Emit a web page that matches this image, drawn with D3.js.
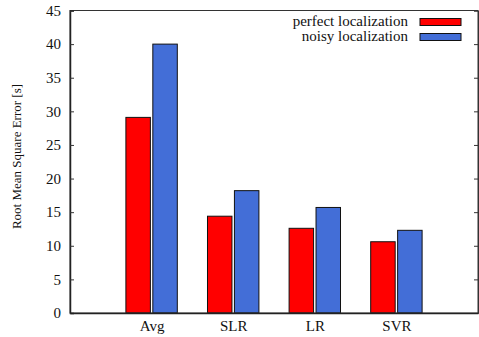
<!DOCTYPE html>
<html>
<head>
<meta charset="utf-8">
<script src="https://cdn.jsdelivr.net/npm/d3@7"></script>
<style>
  html, body { margin: 0; padding: 0; background: #fff; }
  svg { display: block; }
</style>
</head>
<body>
<svg id="chart" width="479" height="337"></svg>
<script>
// Data
const categories = ["Avg", "SLR", "LR", "SVR"];
const seriesNames = ["perfect localization", "noisy localization"];
const perfectValues = [29.1, 14.4, 12.6, 10.6];
const noisyValues = [40.0, 18.2, 15.7, 12.3];
const yTicks = [0, 5, 10, 15, 20, 25, 30, 35, 40, 45];
const colors = ["#ff0000", "#436ed7"];

const series = [perfectValues, noisyValues];

const svg = d3.select("#chart");
const margin = { left: 70, right: 1, top: 10.5, bottom: 24 };
const W = 479, H = 337;
const x0 = margin.left, x1 = W - margin.right;
const y0 = H - margin.bottom, y1 = margin.top;
const fontSize = 15;
const titleSize = 13;
const serifFont = "'Liberation Serif'";

// Category axis runs one slot either side of the groups
const x = d3.scaleLinear().domain([-1, categories.length]).range([x0, x1]);
const y = d3.scaleLinear().domain([0, 45]).range([y0, y1]);

const barW = 0.3;       // bar width in category units
const offsets = [-0.165, 0.165];

// Bars
series.forEach((vals, s) => {
  svg.append("g").selectAll("rect")
    .data(vals)
    .join("rect")
    .attr("x", (d, i) => x(i + offsets[s] - barW / 2))
    .attr("width", x(barW) - x(0))
    .attr("y", d => y(d))
    .attr("height", d => y(0) - y(d))
    .attr("fill", colors[s])
    .attr("stroke", "#111")
    .attr("stroke-width", 1);
});

// Frame
svg.append("rect")
  .attr("x", x0).attr("y", y1)
  .attr("width", x1 - x0).attr("height", y0 - y1)
  .attr("fill", "none").attr("stroke", "#333").attr("stroke-width", 1);

// Left axis with inward ticks
const yAxisL = d3.axisLeft(y).tickValues(yTicks).tickSize(-4).tickPadding(9);
const gl = svg.append("g").attr("transform", `translate(${x0},0)`).call(yAxisL);
gl.select(".domain").attr("stroke", "#222").attr("stroke-width", 1.5);
gl.selectAll("line").attr("stroke", "#333");
gl.selectAll("text").style("font-family", serifFont).style("font-size", fontSize + "px").attr("fill", "#111");

// Right mirror ticks
const yAxisR = d3.axisRight(y).tickValues(yTicks).tickSize(-4).tickFormat("");
const gr = svg.append("g").attr("transform", `translate(${x1},0)`).call(yAxisR);
gr.select(".domain").attr("stroke", "#333").attr("stroke-width", 1);
gr.selectAll("line").attr("stroke", "#333");

// Bottom axis: category labels, no ticks
const xAxis = d3.axisBottom(x).tickValues(d3.range(categories.length))
  .tickFormat(i => categories[i]).tickSize(0).tickPadding(7);
const gb = svg.append("g").attr("transform", `translate(0,${y0})`).call(xAxis);
gb.select(".domain").attr("stroke", "#222").attr("stroke-width", 1.5);
gb.selectAll("text").style("font-family", serifFont).style("font-size", fontSize + "px").attr("fill", "#111");

// Y axis title
svg.append("text")
  .attr("transform", `translate(21,156.5) rotate(-90)`)
  .attr("text-anchor", "middle")
  .style("font-family", serifFont).style("font-size", titleSize + "px")
  .attr("fill", "#111")
  .text("Root Mean Square Error [s]");

// Legend
const legend = svg.append("g");
seriesNames.forEach((name, s) => {
  const cy = 22 + s * 15;
  legend.append("text")
    .attr("x", 408).attr("y", cy + 4)
    .attr("text-anchor", "end")
    .style("font-family", serifFont).style("font-size", fontSize + "px")
    .attr("fill", "#111")
    .text(name);
  legend.append("rect")
    .attr("x", 420).attr("y", cy - 3.5)
    .attr("width", 41).attr("height", 7)
    .attr("fill", colors[s])
    .attr("stroke", "#111").attr("stroke-width", 1);
});
</script>
</body>
</html>
